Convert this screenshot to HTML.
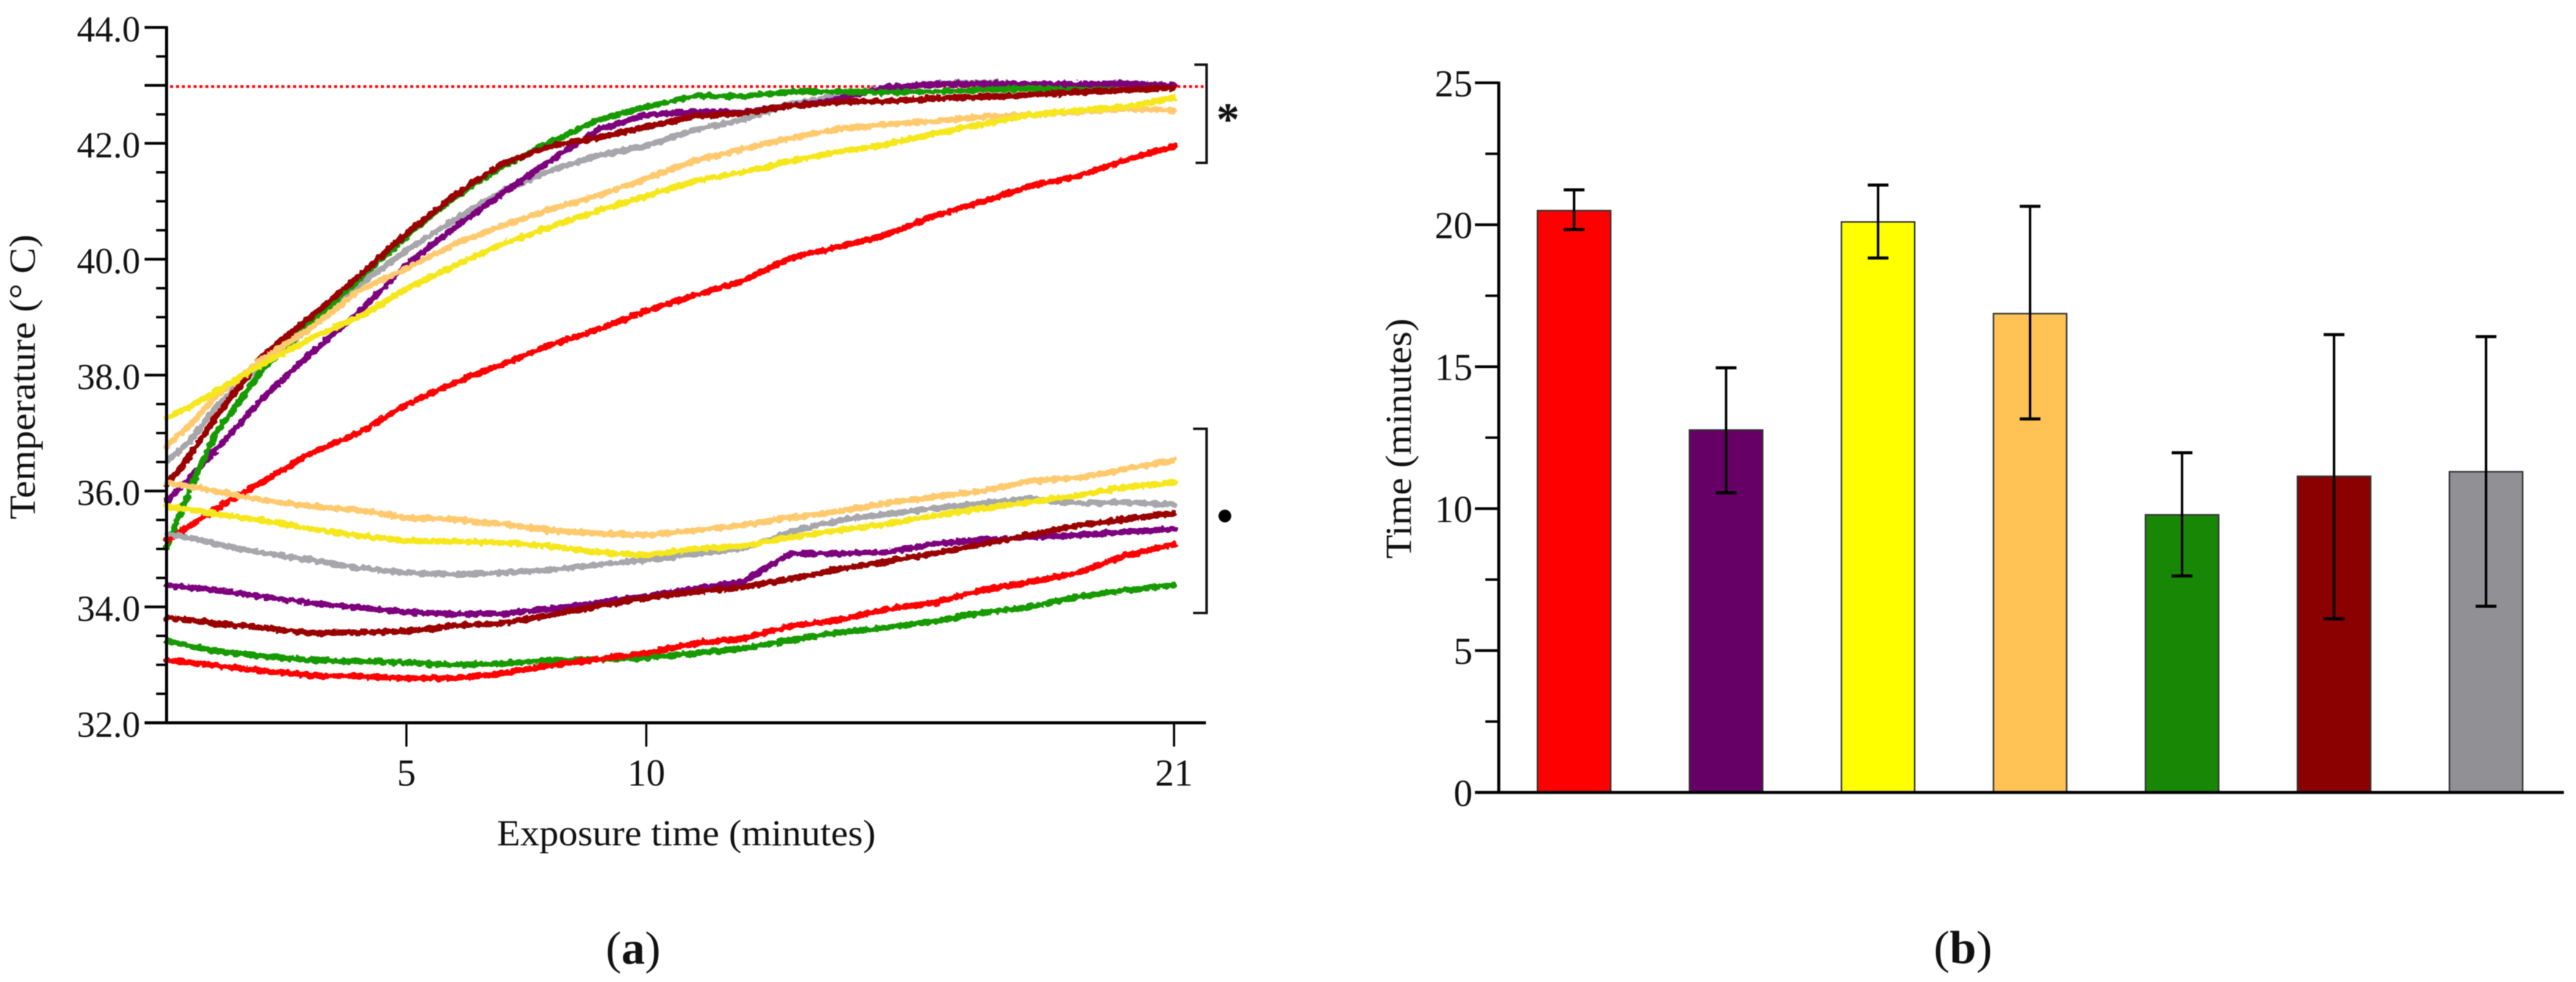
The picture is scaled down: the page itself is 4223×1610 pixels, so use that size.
<!DOCTYPE html>
<html lang="en">
<head>
<meta charset="utf-8">
<title>Temperature over exposure time and time to threshold</title>
<style>
  html, body { margin: 0; padding: 0; background: #fff; }
  body { width: 4223px; height: 1610px; overflow: hidden; }
  svg { display: block; filter: blur(0.7px); }
  text { font-family: "Liberation Serif", "DejaVu Serif", serif; fill: #111; }
</style>
</head>
<body>
<svg id="figure" xmlns="http://www.w3.org/2000/svg" width="4223" height="1610" viewBox="0 0 4223 1610">
  <defs>
    <filter id="trace-fuzz" filterUnits="userSpaceOnUse" x="200" y="0" width="1800" height="1300">
      <feTurbulence type="fractalNoise" baseFrequency="0.12" numOctaves="2" seed="4" result="noise"/>
      <feDisplacementMap in="SourceGraphic" in2="noise" scale="9" xChannelSelector="R" yChannelSelector="G"/>
    </filter>
  </defs>
  <rect x="0" y="0" width="4223" height="1610" fill="#fff"/>

  <g id="panel-a">
    <g id="a-threshold"></g>
    <g id="a-series" filter="url(#trace-fuzz)"></g>
    <g id="a-axes"></g>
    <text x="1125" y="1386" font-size="60" text-anchor="middle" textLength="621" lengthAdjust="spacingAndGlyphs">Exposure time (minutes)</text>
    <text transform="translate(57 618) rotate(-90)" font-size="60" text-anchor="middle" textLength="467" lengthAdjust="spacingAndGlyphs">Temperature (° C)</text>
    <path d="M1958 106H1978V267H1960" fill="none" stroke="#111" stroke-width="4"/>
    <path d="M1956 703H1978V1005H1956" fill="none" stroke="#111" stroke-width="4"/>
    <text x="2013" y="221" font-size="76" font-weight="700" text-anchor="middle">*</text>
    <circle cx="2008" cy="846" r="10.5" fill="#000"/>
    <text x="1038" y="1580" font-size="76" text-anchor="middle" textLength="90" lengthAdjust="spacingAndGlyphs">(<tspan font-weight="700">a</tspan>)</text>
  </g>

  <g id="panel-b">
    <g id="b-bars"></g>
    <g id="b-axes"></g>
    <g id="b-errors"></g>
    <text transform="translate(2313 719) rotate(-90)" font-size="60" text-anchor="middle" textLength="394" lengthAdjust="spacingAndGlyphs">Time (minutes)</text>
    <text x="3218" y="1579" font-size="76" text-anchor="middle" textLength="96" lengthAdjust="spacingAndGlyphs">(<tspan font-weight="700">b</tspan>)</text>
  </g>
</svg>

<script>
// ---- Panel (a) data: minutes and temperatures (deg C) ----
const times = [0,0.5,1,2,3,4,5,6,7,8,9,10,11,12,13,14,15,16,17,18,19,20,21];
const greyHot = [36.5,36.88,37.42,38.2,38.82,39.55,40.15,40.68,41.18,41.53,41.79,41.96,42.23,42.41,42.68,42.81,42.97,43.03,43.05,43.02,43.02,43.04,43.0];
const purpleHot = [35.82,36.23,36.68,37.6,38.37,39.07,39.91,40.54,41.14,41.7,42.24,42.49,42.54,42.54,42.65,42.76,42.97,43.02,43.03,43.02,43.02,43.03,43.0];
const greenHot = [35.03,36.05,36.96,38.09,38.89,39.65,40.4,41.07,41.6,42.02,42.4,42.63,42.82,42.81,42.89,42.89,42.88,42.89,42.92,42.95,42.92,42.92,42.96];
const darkredHot = [36.1,36.63,37.24,38.33,39.0,39.7,40.44,41.1,41.65,41.95,42.1,42.28,42.47,42.52,42.65,42.71,42.73,42.77,42.8,42.84,42.88,42.92,42.96];
const orangeHot = [36.77,37.14,37.61,38.28,38.81,39.45,39.84,40.26,40.58,40.86,41.1,41.39,41.7,41.9,42.09,42.25,42.33,42.38,42.46,42.49,42.54,42.6,42.57];
const yellowHot = [37.26,37.46,37.7,38.19,38.63,39.0,39.49,39.89,40.26,40.56,40.84,41.09,41.35,41.5,41.69,41.85,41.98,42.17,42.33,42.49,42.57,42.63,42.79];
const redHot = [35.16,35.4,35.68,36.16,36.65,37.0,37.49,37.87,38.19,38.52,38.79,39.11,39.38,39.62,40.02,40.21,40.42,40.75,40.99,41.26,41.44,41.71,41.95];
const greyCore = [35.26,35.19,35.09,34.93,34.81,34.67,34.59,34.56,34.59,34.64,34.73,34.81,34.92,35.0,35.3,35.49,35.6,35.7,35.79,35.87,35.79,35.81,35.76];
const purpleCore = [34.38,34.33,34.29,34.18,34.07,33.99,33.91,33.88,33.88,33.97,34.07,34.18,34.32,34.43,34.92,34.92,34.94,35.09,35.16,35.2,35.24,35.3,35.34];
const greenCore = [33.41,33.32,33.24,33.15,33.08,33.06,33.04,33.0,33.02,33.08,33.1,33.12,33.2,33.28,33.42,33.56,33.64,33.75,33.9,34.0,34.18,34.29,34.38];
const darkredCore = [33.82,33.77,33.72,33.64,33.55,33.56,33.58,33.67,33.72,33.86,34.02,34.16,34.26,34.34,34.48,34.65,34.78,34.92,35.08,35.24,35.41,35.51,35.62];
const orangeCore = [36.14,36.08,36.0,35.84,35.74,35.67,35.54,35.51,35.43,35.32,35.27,35.24,35.32,35.41,35.54,35.65,35.79,35.9,36.0,36.17,36.23,36.38,36.53];
const yellowCore = [35.74,35.68,35.61,35.49,35.35,35.23,35.14,35.13,35.11,35.05,34.94,34.89,35.0,35.05,35.2,35.32,35.43,35.57,35.7,35.81,35.92,36.07,36.14];
const redCore = [33.08,33.04,32.99,32.9,32.82,32.8,32.77,32.77,32.85,32.99,33.1,33.2,33.37,33.45,33.67,33.77,33.96,34.07,34.29,34.43,34.59,34.89,35.08];
const thresholdTemp = [42.98];
const tempMajorTicks = [32,34,36,38,40,42,43,44];
const tempMinorTicks = [32.5,33,33.5,34.5,35,35.5,36.5,37,37.5,38.5,39,39.5,40.5,41,41.5,42.5,43.5];
const tempLabelTicks = [32,34,36,38,40,42,44];
const timeTicks = [5,10,21];

// ---- Panel (b) data: minutes, mean with lower/upper error limits ----
const categories = ['red','purple','yellow','orange','green','dark-red','grey'];
const barMeans = [20.5,12.77,20.1,16.87,9.78,11.14,11.3];
const errorHigh = [21.23,14.96,21.4,20.65,11.97,16.13,16.06];
const errorLow = [19.83,10.56,18.83,13.16,7.63,6.12,6.56];
const minutesMajorTicks = [0,5,10,15,20,25];
const minutesMinorTicks = [2.5,7.5,12.5,17.5,22.5];

// ---- Scales ----
function xA(t) { return 273 + 78.65 * t; }
function yA(v) { return 1185 - (v - 32) * 95; }
function xB(i) { return 2580.5 + 249.17 * i; }
function yB(v) { return 1299.3 - v * 46.54; }

const NS = 'http://www.w3.org/2000/svg';
function mk(parent, tag, attrs) {
  const el = document.createElementNS(NS, tag);
  for (const k in attrs) el.setAttribute(k, attrs[k]);
  document.getElementById(parent).appendChild(el);
  return el;
}

// ---- Panel (a) marks ----
const threshold = mk('a-threshold', 'line', {x1: 279, x2: 1973, y1: yA(thresholdTemp[0]), y2: yA(thresholdTemp[0]), stroke: '#ff0000', 'stroke-width': 4.5, 'stroke-dasharray': '4.8 4.8'});



const traces = [
  ['grey-heated-trace', greyHot, '#a6a6ab'],
  ['purple-heated-trace', purpleHot, '#7d007d'],
  ['green-heated-trace', greenHot, '#159a00'],
  ['dark-red-heated-trace', darkredHot, '#990000'],
  ['orange-heated-trace', orangeHot, '#ffca6e'],
  ['yellow-heated-trace', yellowHot, '#f6e71a'],
  ['red-heated-trace', redHot, '#ff0000'],
  ['grey-core-trace', greyCore, '#a6a6ab'],
  ['purple-core-trace', purpleCore, '#7d007d'],
  ['green-core-trace', greenCore, '#159a00'],
  ['dark-red-core-trace', darkredCore, '#990000'],
  ['orange-core-trace', orangeCore, '#ffca6e'],
  ['yellow-core-trace', yellowCore, '#f6e71a'],
  ['red-core-trace', redCore, '#ff0000']
];
traces.forEach(function (tr) {
  const pts = tr[1].map(function (v, i) { return xA(times[i]).toFixed(1) + ',' + yA(v).toFixed(1); }).join(' ');
  const line = mk('a-series', 'polyline', {points: pts, fill: 'none', stroke: tr[2], 'stroke-width': 10, 'stroke-linejoin': 'round', 'stroke-linecap': 'round'});
  
  
});

const axisYA = mk('a-axes', 'line', {x1: xA(0), x2: xA(0), y1: yA(44) - 2, y2: yA(32) + 2, stroke: '#000', 'stroke-width': 5});


const axisXA = mk('a-axes', 'line', {x1: 237, x2: 1977, y1: yA(32), y2: yA(32), stroke: '#000', 'stroke-width': 5});



tempMajorTicks.forEach(function (v) {
  const t = mk('a-axes', 'line', {x1: 237, x2: xA(0), y1: yA(v), y2: yA(v), stroke: '#000', 'stroke-width': 4.5});
  
  
});
tempMinorTicks.forEach(function (v) {
  const t = mk('a-axes', 'line', {x1: 256, x2: xA(0), y1: yA(v), y2: yA(v), stroke: '#000', 'stroke-width': 4});
  
  
});
tempLabelTicks.forEach(function (v) {
  const l = mk('a-axes', 'text', {x: 230, y: yA(v) + 23, 'font-size': 60, 'text-anchor': 'end', textLength: 104, lengthAdjust: 'spacingAndGlyphs'});
  l.textContent = v.toFixed(1);
  
  
});
timeTicks.forEach(function (v) {
  const t = mk('a-axes', 'line', {x1: xA(v), x2: xA(v), y1: yA(32), y2: 1224, stroke: '#000', 'stroke-width': 3.5});
  
  
  const l = mk('a-axes', 'text', {x: xA(v), y: 1288, 'font-size': 62, 'text-anchor': 'middle'});
  l.textContent = String(v);
  
  
});

// ---- Panel (b) marks ----
const barFills = ['#ff0000','#660066','#ffff00','#ffc355','#188705','#8b0000','#919195'];
const barWidth = 120;
categories.forEach(function (c, i) {
  const b = mk('b-bars', 'rect', {x: xB(i) - barWidth / 2, y: yB(barMeans[i]), width: barWidth, height: yB(0) - yB(barMeans[i]), fill: barFills[i], stroke: '#333', 'stroke-width': 2.5});
  
  
  const stem = mk('b-errors', 'line', {x1: xB(i), x2: xB(i), y1: yB(errorHigh[i]), y2: yB(errorLow[i]), stroke: '#000', 'stroke-width': 4});
  
  
  const capHigh = mk('b-errors', 'line', {x1: xB(i) - 17, x2: xB(i) + 17, y1: yB(errorHigh[i]), y2: yB(errorHigh[i]), stroke: '#000', 'stroke-width': 5});
  
  
  const capLow = mk('b-errors', 'line', {x1: xB(i) - 17, x2: xB(i) + 17, y1: yB(errorLow[i]), y2: yB(errorLow[i]), stroke: '#000', 'stroke-width': 5});
  
  
});

const axisYB = mk('b-axes', 'line', {x1: 2457, x2: 2457, y1: yB(25) - 2, y2: yB(0) + 2, stroke: '#000', 'stroke-width': 5});


const axisXB = mk('b-axes', 'line', {x1: 2418, x2: 4203, y1: yB(0), y2: yB(0), stroke: '#000', 'stroke-width': 5});


minutesMajorTicks.forEach(function (v) {
  const t = mk('b-axes', 'line', {x1: 2418, x2: 2457, y1: yB(v), y2: yB(v), stroke: '#000', 'stroke-width': 4.5});
  
  
  const l = mk('b-axes', 'text', {x: 2414, y: yB(v) + 22, 'font-size': 62, 'text-anchor': 'end'});
  l.textContent = String(v);
  
  
});
minutesMinorTicks.forEach(function (v) {
  const t = mk('b-axes', 'line', {x1: 2435, x2: 2457, y1: yB(v), y2: yB(v), stroke: '#000', 'stroke-width': 4});
  
  
});
</script>
</body>
</html>
